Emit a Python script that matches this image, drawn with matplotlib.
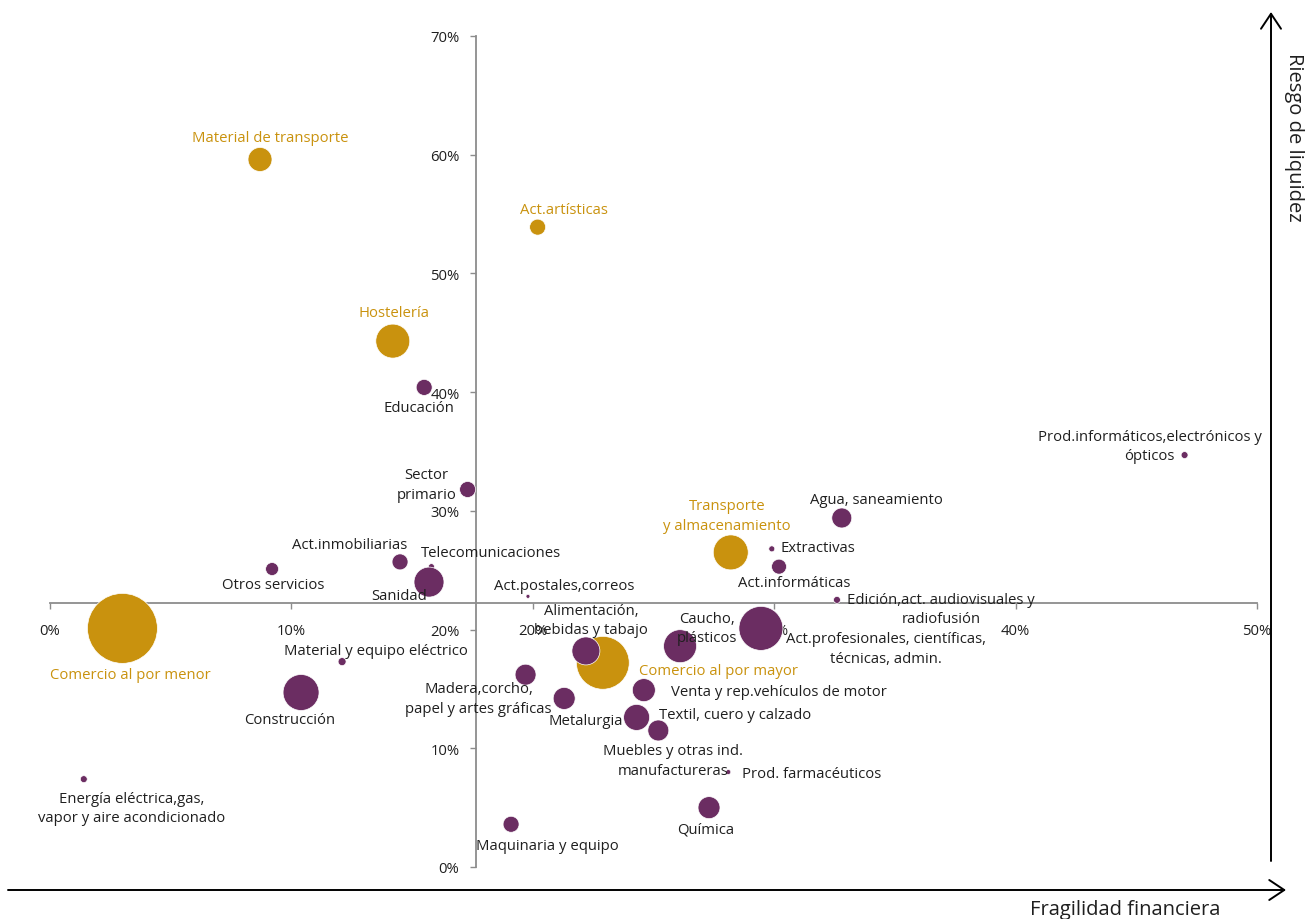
import matplotlib.pyplot as plt

plt.rcParams['font.family'] = ['Open Sans', 'DejaVu Sans']

# Sectores destacados (en oro)
sect_oro = ['Material de transporte', 'Act.artísticas', 'Hostelería',
            'Transporte\ny almacenamiento', 'Comercio al por menor',
            'Comercio al por mayor']
frag_oro = [8.7, 20.2, 14.2, 28.2, 3.0, 22.9]
liq_oro = [59.6, 53.9, 44.3, 26.5, 20.1, 17.2]
peso_oro = [1.44, 0.64, 2.89, 3.06, 12.25, 7.0]

# Resto de sectores (morado)
sect_mor = ['Educación', 'Sector\nprimario', 'Act.inmobiliarias', 'Otros servicios',
            'Telecomunicaciones', 'Sanidad', 'Act.postales,correos',
            'Alimentación,\nbebidas y tabajo', 'Caucho,\nplásticos',
            'Act.profesionales, científicas,\ntécnicas, admin.', 'Extractivas',
            'Act.informáticas', 'Agua, saneamiento',
            'Edición,act. audiovisuales y\nradiofusión',
            'Prod.informáticos,electrónicos y\nópticos',
            'Material y equipo eléctrico', 'Construcción',
            'Madera,corcho,\npapel y artes gráficas', 'Metalurgia',
            'Venta y rep.vehículos de motor', 'Textil, cuero y calzado',
            'Muebles y otras ind.\nmanufactureras', 'Prod. farmacéuticos', 'Química',
            'Maquinaria y equipo', 'Energía eléctrica,gas,\nvapor y aire acondicionado']
frag_mor = [15.5, 17.3, 14.5, 9.2, 15.8, 15.7, 19.8, 22.2, 26.1, 29.45, 29.9,
            30.2, 32.8, 32.6, 47.0, 12.1, 10.4, 19.7, 21.3, 24.6, 24.3, 25.2,
            28.1, 27.3, 19.1, 1.4]
liq_mor = [40.4, 31.8, 25.7, 25.1, 25.3, 24.0, 22.8, 18.2, 18.6, 20.1, 26.8,
           25.3, 29.4, 22.5, 34.7, 17.3, 14.7, 16.2, 14.2, 14.9, 12.6, 11.5,
           8.0, 5.0, 3.6, 7.4]
peso_mor = [0.64, 0.64, 0.64, 0.42, 0.09, 2.25, 0.04, 1.96, 2.72, 4.84, 0.09,
            0.56, 1.0, 0.12, 0.12, 0.16, 3.24, 1.1, 1.21, 1.32, 1.69, 1.1,
            0.06, 1.21, 0.64, 0.12]

# desplazamiento de cada etiqueta respecto a su burbuja (pixeles)
desp_oro = [(10, 22), (26, 18), (1, 29), (-4, 37), (8, -46), (116, -8)]
desp_mor = [(-5, -20), (-41, 5), (-50, 17), (1, -15), (60, 14), (-30, -13),
            (36, 11), (5, 31), (27, 18), (125, -20), (46, 1), (15, -16),
            (35, 18), (104, -9), (-35, 9), (34, 11), (-11, -27), (-47, -24),
            (22, -22), (135, -1), (99, 3), (15, -30), (83, -1), (-3, -21),
            (36, -21), (48, -29)]

oro = '#C9920E'
morado = '#6B2D62'
gris = '#8C8C8C'
texto = '#1F1F1F'
fs = 10.7

fig = plt.figure(figsize=(13.06, 9.2), dpi=100)
ax = fig.add_axes([50 / 1306, 52 / 920, 1207 / 1306, 831 / 920])

ax.scatter(frag_oro, liq_oro, s=[p * 207 for p in peso_oro], color=oro,
           edgecolor='white', linewidth=0.5, zorder=2, clip_on=False)
ax.scatter(frag_mor, liq_mor, s=[p * 207 for p in peso_mor], color=morado,
           edgecolor='white', linewidth=0.5, zorder=2, clip_on=False)

for nom, x, y, d in zip(sect_oro, frag_oro, liq_oro, desp_oro):
    ax.annotate(nom, (x, y), xytext=d, textcoords='offset pixels', ha='center',
                va='center', color=oro, fontsize=fs, zorder=3, linespacing=1.4)
for nom, x, y, d in zip(sect_mor, frag_mor, liq_mor, desp_mor):
    ax.annotate(nom, (x, y), xytext=d, textcoords='offset pixels', ha='center',
                va='center', color=texto, fontsize=fs, zorder=3, linespacing=1.4)

ax.set_xlim(0, 50)
ax.set_ylim(0, 70)
ax.spines['top'].set_visible(False)
ax.spines['right'].set_visible(False)
ax.spines['left'].set_position(('data', 17.65))
ax.spines['bottom'].set_position(('data', 22.2))
for sp in ['left', 'bottom']:
    ax.spines[sp].set_color(gris)
    ax.spines[sp].set_linewidth(1.3)
    ax.spines[sp].set_zorder(1)

ax.set_xticks(range(0, 51, 10))
ax.set_xticklabels([f'{v}%' for v in range(0, 51, 10)])
ax.set_yticks(range(0, 71, 10))
ax.set_yticklabels([f'{v}%' for v in range(0, 71, 10)])
ax.tick_params(axis='x', direction='out', length=4, width=1, color=gris,
               pad=10, labelsize=fs, labelcolor=texto)
ax.tick_params(axis='y', direction='out', length=4, width=1, color=gris,
               pad=8, labelsize=fs, labelcolor=texto)

# flechas de los ejes
ax.annotate('', xy=(1286, 29), xytext=(8, 29), xycoords='figure pixels',
            textcoords='figure pixels', annotation_clip=False,
            arrowprops=dict(arrowstyle='->, head_length=0.6, head_width=0.4',
                            lw=1.4, color='black', mutation_scale=18,
                            shrinkA=0, shrinkB=0))
ax.annotate('', xy=(1271, 907), xytext=(1271, 58), xycoords='figure pixels',
            textcoords='figure pixels', annotation_clip=False,
            arrowprops=dict(arrowstyle='->, head_length=0.6, head_width=0.4',
                            lw=1.4, color='black', mutation_scale=18,
                            shrinkA=0, shrinkB=0))
fig.text(1125 / 1306, 10 / 920, 'Fragilidad financiera', ha='center',
         va='center', fontsize=14.5, color=texto)
fig.text(1294 / 1306, 783 / 920, 'Riesgo de liquidez', ha='center',
         va='center', rotation=270, fontsize=14.5, color=texto)

fig.savefig('out.png', dpi=100)
